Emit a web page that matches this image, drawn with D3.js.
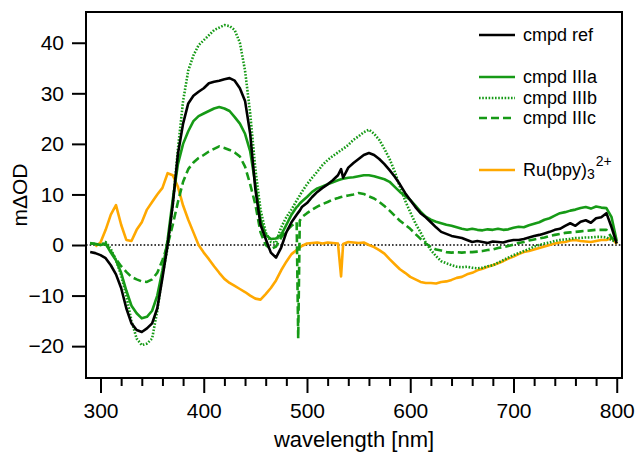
<!DOCTYPE html>
<html><head><meta charset="utf-8">
<script src="https://cdn.jsdelivr.net/npm/d3@7"></script>
<style>body{margin:0;background:#fff}svg{display:block}</style>
</head><body>
<svg id="chart" width="637" height="453"></svg>
<script>
// ---- data ----
const wavelength = [
290,295,300,305,310,315,320,325,330,335,
340,345,350,355,360,365,370,375,380,385,
390,395,400,405,410,415,420,425,430,435,
440,445,450,455,460,465,470,475,480,485,
490,491.5,493,495,500,505,510,515,520,525,
530,533,535,540,545,550,555,560,565,570,
575,580,585,590,595,600,605,610,615,620,
625,630,635,640,645,650,655,660,665,670,
675,680,685,690,695,700,705,710,715,720,
725,730,735,740,745,750,755,760,765,770,
775,780,785,790,795,800];

const cmpdRef = [
-1.4,-1.6,-2.0,-2.6,-4.0,-5.8,-8.5,-12.5,-15.5,-16.8,
-17.2,-16.5,-15.5,-12.5,-6.5,0,8,18,24,28,
29.5,30.3,31,32,32.3,32.5,32.8,33,32.5,31,
28.5,22,11,4,1.2,-1.5,-2.5,-0.5,2.5,4.5,
6,6.4,6.8,7.5,8.3,9.5,10.5,11.3,12,12.8,
13.8,15,13.3,15.3,16.2,17,17.8,18.2,17.8,17,
16,14.8,13.5,12,10.3,8.9,7.5,6.3,5.5,4.5,
3.5,2.6,2.2,1.8,1.6,1.4,1.0,0.6,0.8,0.6,
0.4,0.7,0.6,0.5,0.8,1.0,1.0,1.2,1.5,1.8,
2.0,2.3,2.6,3.0,3.2,3.8,4.3,3.8,4.6,4.9,
4.4,5.3,5.5,6.3,3.5,0.3];

const cmpdIIIa = [
0.4,0.2,0,0.3,-1.5,-3.0,-5.5,-9.0,-12,-13.5,
-14.5,-14.2,-13,-10,-5,1,9,16,20,22.5,
24.5,25.5,26,26.5,27,27.3,27,26.5,25.3,24,
22,18.5,12,5,2,1.2,1.3,2,4,6,
7.5,7.8,8.2,8.6,9.5,10.5,11.2,11.6,12,12.4,
12.8,13,13.1,13.3,13.4,13.6,13.8,13.8,13.6,13.3,
13,12.5,11.5,10.5,9.7,8.9,7.8,6.6,5.6,5.0,
4.6,4.3,4.0,3.8,3.5,3.2,3.0,3.2,3.0,2.9,
3.1,3.0,3.2,3.0,3.1,3.4,3.6,3.5,3.9,4.2,
4.5,5.0,5.3,5.8,6.3,6.5,6.8,7.0,7.3,7.5,
7.2,7.6,7.4,7.3,5.5,0.8];

const cmpdIIIb = [
0.3,0.2,0,0.6,-0.8,-3,-6,-10,-15,-18.5,
-19.8,-19.5,-18.5,-13,-6,-0.5,8,19,28.5,34.5,
37.5,39.5,40.5,41.5,42.5,43,43.5,43.3,42.5,40,
34.5,26,15,7,2.5,0.6,0.5,3.5,5.5,7,
8.8,9.3,9.8,10.5,12,13.3,14.5,15.8,16.8,17.6,
18.3,18.8,19,19.8,20.8,21.5,22.3,22.8,22,20.8,
19,17,14.5,11.5,8.8,6.5,4.3,2.5,0.5,-1,
-2.2,-3.2,-3.6,-4,-4.3,-4.4,-4.3,-4.5,-4.6,-4.5,
-4.2,-4.0,-3.5,-3.0,-2.5,-2.0,-1.6,-1.2,-0.8,-0.3,
0,0.3,0.5,0.8,1.0,1.1,1.2,1.4,1.4,1.5,
1.5,1.6,1.6,1.5,1.0,0.5];

const cmpdIIIc = [
0.3,0.2,0.1,0.2,-1.2,-2.8,-4.2,-5.3,-6.3,-6.8,
-7.2,-7.3,-6.8,-5.5,-3,0,4,8.5,12.5,15,
16.3,17.2,17.8,18.5,19,19.5,19.2,18.8,18.3,17.5,
15.5,12,8,2.5,0,-0.8,-0.3,1.5,2.8,3.8,
4.5,-18.5,4.8,5.5,6.3,7,7.6,8.1,8.5,9,
9.3,9.5,9.6,9.8,10,10.3,10.1,9.6,9.2,8.5,
7.7,6.8,5.8,4.8,4,3.2,2.2,1.2,0.3,-0.4,
-0.9,-1.1,-1.4,-1.5,-1.4,-1.5,-1.4,-1.4,-1.3,-1.2,
-1.0,-0.9,-0.6,-0.4,-0.2,0.1,0.4,0.6,0.9,1.1,
1.3,1.5,1.8,2.0,2.2,2.4,2.5,2.6,2.7,2.8,
2.9,3.0,3.0,3.0,1.5,0.3];

const ruBpy = [
null,-0.3,0.5,3,6,7.9,4,1,0.8,3,
4.5,7,8.5,10,11.3,14.2,13.8,11.5,7.8,5,
2.5,0,-1.5,-2.8,-4.2,-5.5,-6.7,-7.5,-8.1,-8.7,
-9.3,-10,-10.6,-10.8,-9.7,-8.5,-7,-5,-3.3,-1.8,
-1,-0.7,-0.5,-0.2,0.3,0.4,0.5,0.3,0.5,0.4,
0.3,-6.2,0.2,0.6,0.5,0.4,0.5,0,-0.4,-1,
-1.7,-2.8,-3.8,-4.8,-5.5,-6.3,-6.8,-7.3,-7.5,-7.5,
-7.6,-7.3,-7.2,-6.9,-6.5,-6.3,-5.8,-5.5,-5.0,-4.7,
-4.3,-4.0,-3.6,-3.2,-2.7,-2.3,-1.8,-1.4,-1.2,-0.9,
-0.6,-0.3,0,0.3,0.5,0.6,0.9,1.0,0.8,0.7,
0.6,0.8,1.0,1.0,1.4,0.2];

const xTicks = [300,400,500,600,700,800];
const xMinorTicks = [320,340,360,380,420,440,460,480,520,540,560,580,620,640,660,680,720,740,760,780];
const yTicks = [-20,-10,0,10,20,30,40];
const seriesNames = ["cmpd ref","cmpd IIIa","cmpd IIIb","cmpd IIIc","Ru(bpy)"];

// ---- layout ----
const W = 637, H = 453;
const m = {left: 86, right: 622, top: 12, bottom: 378};
const FONT = "'Liberation Sans', Arial, Helvetica, sans-serif";
const GREEN = "#169a16", ORANGE = "#ffa800";

const svg = d3.select("#chart");
const x = d3.scaleLinear().domain([285.96, 805.1]).range([m.left, m.right]);
const y = d3.scaleLinear().domain([-26.3, 46.08]).range([m.bottom, m.top]);

svg.append("defs").append("clipPath").attr("id","clip")
  .append("rect").attr("x",m.left).attr("y",m.top)
  .attr("width",m.right-m.left).attr("height",m.bottom-m.top);

// zero line
svg.append("line")
  .attr("x1",m.left).attr("x2",m.right)
  .attr("y1",y(0)).attr("y2",y(0))
  .attr("stroke","#000").attr("stroke-width",1.6)
  .attr("stroke-dasharray","1.6,2");

const styles = [
  {vals: cmpdRef, color:"#000", dash:null, w:2.6},
  {vals: cmpdIIIa, color:GREEN, dash:null, w:2.6},
  {vals: cmpdIIIb, color:GREEN, dash:"1.6,1.6", w:2.6},
  {vals: cmpdIIIc, color:GREEN, dash:"8,4", w:2.6},
  {vals: ruBpy, color:ORANGE, dash:null, w:2.6}
];

const line = d3.line()
  .defined(d => d[1] !== null)
  .x(d => x(d[0])).y(d => y(d[1]));

const plot = svg.append("g").attr("clip-path","url(#clip)");
const drawOrder = [4,3,2,1,0];
drawOrder.forEach(i => {
  const s = styles[i];
  const pts = wavelength.map((wl,k) => [wl, s.vals[k]]);
  plot.append("path").datum(pts)
    .attr("d", line)
    .attr("fill","none")
    .attr("stroke", s.color)
    .attr("stroke-width", s.w)
    .attr("stroke-linejoin","round")
    .attr("stroke-dasharray", s.dash);
});

// axes
function styleAxis(g, fs){
  g.attr("font-family", FONT).attr("font-size", fs);
  g.select(".domain").remove();
  g.selectAll(".tick line").attr("stroke","#000").attr("stroke-width",2);
  g.selectAll(".tick text").attr("fill","#000");
}
svg.append("g").attr("transform",`translate(0,${m.bottom})`)
  .call(d3.axisBottom(x).tickValues(xMinorTicks).tickSize(8).tickFormat(""))
  .call(g => styleAxis(g, 21));
svg.append("g").attr("transform",`translate(0,${m.bottom})`)
  .call(d3.axisBottom(x).tickValues(xTicks).tickSize(15).tickPadding(10).tickFormat(d3.format("d")))
  .call(g => styleAxis(g, 21));
svg.append("g").attr("transform",`translate(${m.left},0)`)
  .call(d3.axisLeft(y).tickValues(yTicks).tickSize(14).tickPadding(8).tickFormat(d3.format("d")))
  .call(g => styleAxis(g, 21));

// frame
svg.append("rect")
  .attr("x",m.left).attr("y",m.top)
  .attr("width",m.right-m.left).attr("height",m.bottom-m.top)
  .attr("fill","none").attr("stroke","#000").attr("stroke-width",2);

// axis titles
svg.append("text").attr("x",(m.left+m.right)/2).attr("y",447)
  .attr("text-anchor","middle").attr("font-family",FONT).attr("font-size",22)
  .text("wavelength [nm]");
svg.append("text")
  .attr("transform",`translate(27,${(m.top+m.bottom)/2}) rotate(-90)`)
  .attr("text-anchor","middle").attr("font-family",FONT).attr("font-size",21)
  .text("mΔOD");

// legend
const legendY = [35, 77, 98, 118, 170];
const lg = svg.append("g").attr("font-family",FONT).attr("font-size",18);
styles.forEach((s,i) => {
  lg.append("line").attr("x1",479).attr("x2",515)
    .attr("y1",legendY[i]).attr("y2",legendY[i])
    .attr("stroke",s.color).attr("stroke-width",2.6)
    .attr("stroke-dasharray",s.dash);
  const t = lg.append("text").attr("x",523).attr("y",legendY[i]).attr("dy","0.36em")
    .text(seriesNames[i]);
  if (i === 4) {
    t.append("tspan").attr("font-size",14).attr("dy",3).text("3");
    t.append("tspan").attr("font-size",14).attr("dy",-13).attr("dx",1).text("2+");
  }
});
</script>
</body></html>
